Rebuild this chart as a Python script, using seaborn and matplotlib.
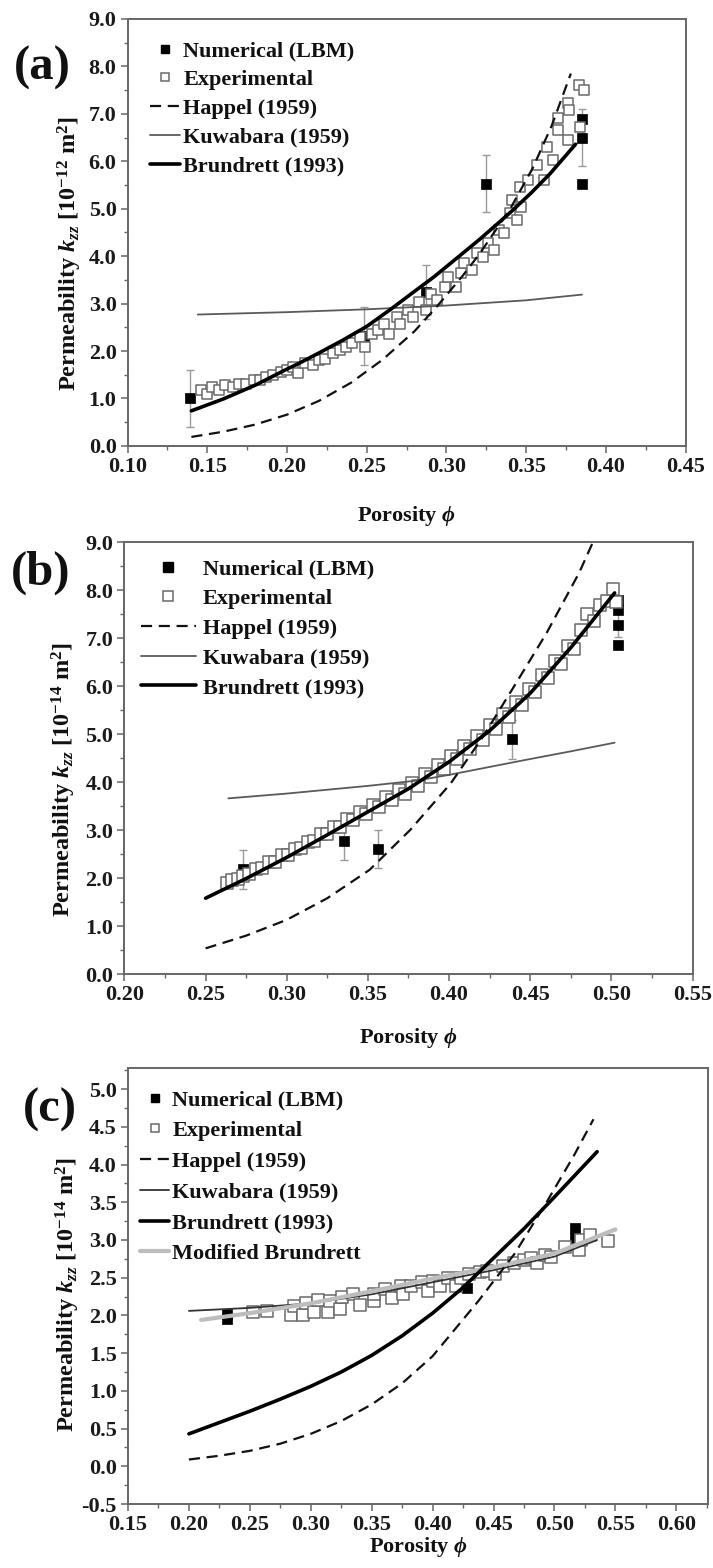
import matplotlib
matplotlib.use('Agg')
import matplotlib.pyplot as plt
import seaborn as sns
from matplotlib.lines import Line2D
from matplotlib.ticker import MultipleLocator, FormatStrFormatter

# ---------------- Panel (a) data ----------------
a_lbm_x = [0.139, 0.248, 0.287, 0.325, 0.385, 0.385, 0.385]
a_lbm_y = [1.00, 2.32, 3.25, 5.53, 6.90, 6.50, 5.53]
a_lbm_err = [0.60, 0.61, 0.57, 0.60, 0.0, 0.60, 0.0]

a_exp_x = [0.146, 0.150, 0.153, 0.157, 0.161, 0.166, 0.170, 0.174, 0.179, 0.183,
           0.187, 0.191, 0.196, 0.200, 0.204, 0.207, 0.211, 0.216, 0.220, 0.224,
           0.229, 0.233, 0.237, 0.241, 0.246, 0.249, 0.253, 0.257, 0.261, 0.264,
           0.269, 0.271, 0.276, 0.279, 0.283, 0.287, 0.290, 0.294, 0.299, 0.301,
           0.306, 0.309, 0.311, 0.316, 0.319, 0.323, 0.326, 0.330, 0.333, 0.336,
           0.340, 0.341, 0.344, 0.347, 0.346, 0.351, 0.357, 0.361, 0.363, 0.367,
           0.370, 0.370, 0.376, 0.376, 0.377, 0.383, 0.386, 0.384]
a_exp_y = [1.17, 1.10, 1.24, 1.17, 1.28, 1.24, 1.31, 1.31, 1.39, 1.39,
           1.46, 1.49, 1.56, 1.60, 1.67, 1.53, 1.74, 1.70, 1.81, 1.84,
           1.95, 2.02, 2.09, 2.16, 2.30, 2.09, 2.37, 2.44, 2.58, 2.37,
           2.72, 2.58, 2.86, 2.72, 3.04, 2.86, 3.21, 3.07, 3.35, 3.57,
           3.35, 3.64, 3.85, 3.71, 4.06, 3.99, 4.27, 4.13, 4.55, 4.48,
           4.90, 5.18, 4.76, 5.04, 5.46, 5.60, 5.92, 5.60, 6.31, 6.03,
           6.66, 6.91, 6.45, 7.22, 7.08, 7.61, 7.50, 6.73]

a_happel_x = [0.140, 0.160, 0.180, 0.200, 0.220, 0.240, 0.260, 0.280, 0.294, 0.310,
              0.321, 0.340, 0.354, 0.366, 0.378]
a_happel_y = [0.19, 0.30, 0.45, 0.66, 0.95, 1.33, 1.82, 2.42, 2.94, 3.58,
              4.06, 5.00, 5.85, 6.75, 7.85]

a_kuwa_x = [0.144, 0.200, 0.250, 0.300, 0.350, 0.385]
a_kuwa_y = [2.77, 2.82, 2.88, 2.96, 3.07, 3.19]

a_brund_x = [0.140, 0.160, 0.180, 0.200, 0.208, 0.220, 0.235, 0.250, 0.265, 0.280,
             0.292, 0.300, 0.321, 0.340, 0.353, 0.365, 0.381]
a_brund_y = [0.74, 0.99, 1.28, 1.62, 1.75, 1.96, 2.23, 2.52, 2.88, 3.26,
             3.56, 3.78, 4.36, 4.92, 5.33, 5.74, 6.36]

# ---------------- Panel (b) data ----------------
b_lbm_x = [0.273, 0.335, 0.356, 0.439, 0.504, 0.504, 0.504, 0.504]
b_lbm_y = [2.18, 2.78, 2.61, 4.89, 7.80, 7.59, 7.28, 6.86]
b_lbm_err = [0.40, 0.40, 0.40, 0.40, 0.0, 0.0, 0.25, 0.0]

b_exp_x = [0.263, 0.266, 0.270, 0.273, 0.277, 0.281, 0.285, 0.289, 0.293, 0.297,
           0.301, 0.305, 0.309, 0.313, 0.317, 0.321, 0.325, 0.329, 0.333, 0.337,
           0.341, 0.345, 0.349, 0.353, 0.357, 0.361, 0.365, 0.369, 0.373, 0.377,
           0.381, 0.385, 0.389, 0.393, 0.397, 0.401, 0.405, 0.409, 0.413, 0.417,
           0.421, 0.425, 0.429, 0.433, 0.437, 0.441, 0.445, 0.449, 0.453, 0.457,
           0.461, 0.465, 0.469, 0.473, 0.477, 0.481, 0.485, 0.489, 0.493, 0.497,
           0.501, 0.503]
b_exp_y = [1.89, 1.95, 1.97, 2.05, 2.08, 2.18, 2.20, 2.33, 2.34, 2.47,
           2.47, 2.61, 2.62, 2.76, 2.77, 2.91, 2.92, 3.07, 3.06, 3.22,
           3.20, 3.37, 3.33, 3.53, 3.47, 3.68, 3.62, 3.83, 3.76, 3.99,
           3.92, 4.17, 4.10, 4.35, 4.28, 4.55, 4.48, 4.75, 4.68, 4.96,
           4.88, 5.18, 5.10, 5.42, 5.36, 5.67, 5.60, 5.93, 5.88, 6.22,
           6.17, 6.52, 6.46, 6.84, 6.78, 7.16, 7.50, 7.35, 7.68, 7.78,
           8.02, 7.75]

b_happel_x = [0.250, 0.275, 0.300, 0.325, 0.351, 0.376, 0.401, 0.421, 0.440, 0.460,
              0.480, 0.490]
b_happel_y = [0.535, 0.80, 1.13, 1.58, 2.17, 3.00, 3.97, 4.95, 5.99, 7.10,
              8.35, 9.10]

b_kuwa_x = [0.264, 0.300, 0.350, 0.380, 0.400, 0.450, 0.475, 0.502]
b_kuwa_y = [3.66, 3.76, 3.92, 4.03, 4.15, 4.48, 4.64, 4.82]

b_brund_x = [0.250, 0.275, 0.300, 0.325, 0.350, 0.375, 0.400, 0.425, 0.450, 0.475, 0.502]
b_brund_y = [1.58, 1.99, 2.43, 2.90, 3.38, 3.86, 4.42, 5.07, 5.85, 6.80, 7.94]

# ---------------- Panel (c) data ----------------
c_lbm_x = [0.231, 0.231, 0.428, 0.517, 0.517]
c_lbm_y = [2.02, 1.95, 2.37, 3.16, 3.02]

c_exp_x = [0.253, 0.264, 0.284, 0.286, 0.294, 0.296, 0.303, 0.306, 0.314, 0.316,
           0.324, 0.326, 0.335, 0.340, 0.352, 0.352, 0.361, 0.367, 0.374, 0.376,
           0.382, 0.391, 0.396, 0.400, 0.406, 0.413, 0.419, 0.423, 0.430, 0.439,
           0.445, 0.451, 0.458, 0.467, 0.475, 0.481, 0.486, 0.492, 0.497, 0.509,
           0.520, 0.522, 0.529, 0.544]
c_exp_y = [2.04, 2.06, 2.00, 2.12, 2.01, 2.16, 2.05, 2.21, 2.05, 2.19,
           2.09, 2.25, 2.29, 2.14, 2.19, 2.28, 2.35, 2.23, 2.39, 2.28,
           2.39, 2.44, 2.32, 2.46, 2.39, 2.50, 2.39, 2.50, 2.55, 2.57,
           2.59, 2.55, 2.66, 2.69, 2.73, 2.76, 2.69, 2.80, 2.78, 2.91,
           2.87, 3.00, 3.07, 2.98]

c_happel_x = [0.200, 0.225, 0.250, 0.275, 0.300, 0.325, 0.350, 0.375, 0.400, 0.4375,
              0.4674, 0.4935, 0.516, 0.532]
c_happel_y = [0.09, 0.14, 0.205, 0.30, 0.43, 0.60, 0.82, 1.10, 1.46, 2.19,
              2.82, 3.50, 4.12, 4.60]

c_kuwa_x = [0.200, 0.250, 0.300, 0.350, 0.400, 0.450, 0.500, 0.535]
c_kuwa_y = [2.06, 2.10, 2.16, 2.28, 2.44, 2.60, 2.78, 3.00]

c_brund_x = [0.200, 0.225, 0.250, 0.275, 0.300, 0.325, 0.350, 0.375, 0.400, 0.425,
             0.450, 0.475, 0.500, 0.535]
c_brund_y = [0.43, 0.58, 0.73, 0.89, 1.06, 1.25, 1.47, 1.73, 2.03, 2.37,
             2.76, 3.15, 3.57, 4.17]

c_mod_x = [0.210, 0.250, 0.300, 0.350, 0.400, 0.450, 0.500, 0.550]
c_mod_y = [1.94, 2.03, 2.16, 2.32, 2.49, 2.64, 2.82, 3.14]

# ---------------- text ----------------
labels_main = ["Numerical (LBM)", "Experimental", "Happel (1959)", "Kuwabara (1959)",
               "Brundrett (1993)"]
label_mod = "Modified Brundrett"
xlabel = r"Porosity $\mathit{\phi}$"
ylabel_a = r"Permeability $\mathit{k}_{\mathit{zz}}$ [10$^{-12}$ m$^{2}$]"
ylabel_bc = r"Permeability $\mathit{k}_{\mathit{zz}}$ [10$^{-14}$ m$^{2}$]"
panel_tags = ["(a)", "(b)", "(c)"]

# ---------------- style ----------------
sns.set_theme(style='ticks')
plt.rcParams['font.family'] = ['Liberation Serif', 'DejaVu Serif']
plt.rcParams['font.weight'] = 'bold'
plt.rcParams['axes.labelweight'] = 'bold'
plt.rcParams['mathtext.fontset'] = 'custom'
plt.rcParams['mathtext.rm'] = 'Liberation Serif:bold'
plt.rcParams['mathtext.it'] = 'Liberation Serif:italic:bold'
plt.rcParams['mathtext.bf'] = 'Liberation Serif:bold'

SPINE = '#666666'
KUWA = '#5a5a5a'
ERR = '#9a9a9a'
SQ_EDGE = '#6a6a6a'
MOD = '#bdbdbd'
FS = 16
FS_Y = 17.5

fig = plt.figure(figsize=(7.13, 15.68), dpi=100)
fig.patch.set_facecolor('white')

ax_a = fig.add_axes([0.179, 0.7156, 0.7826, 0.2723])
ax_b = fig.add_axes([0.1745, 0.3788, 0.7968, 0.2755])
ax_c = fig.add_axes([0.1795, 0.0408, 0.8135, 0.2781])


def style_axes(ax, xlim, ylim, xmaj, ymaj, ymin):
    ax.set_xlim(*xlim)
    ax.set_ylim(*ylim)
    ax.xaxis.set_major_locator(MultipleLocator(xmaj))
    ax.xaxis.set_minor_locator(MultipleLocator(xmaj / 2))
    ax.yaxis.set_major_locator(MultipleLocator(ymaj))
    ax.yaxis.set_minor_locator(MultipleLocator(ymin))
    ax.xaxis.set_major_formatter(FormatStrFormatter('%.2f'))
    ax.yaxis.set_major_formatter(FormatStrFormatter('%.1f'))
    for s in ax.spines.values():
        s.set_color(SPINE)
        s.set_linewidth(1.4)
        s.set_visible(True)
    ax.tick_params(which='major', direction='out', length=5, width=1.1,
                   color=SPINE, labelsize=FS, labelcolor='#1a1a1a', pad=3)
    ax.tick_params(which='minor', direction='out', length=3, width=1.0, color=SPINE)
    for t in ax.get_xticklabels() + ax.get_yticklabels():
        t.set_fontweight('bold')
    ax.set_facecolor('white')


def draw_panel(ax, lbm_x, lbm_y, lbm_err, exp_x, exp_y, hx, hy, kx, ky, bx, by,
               ms_exp, ms_lbm, kuwa_color, mod=None):
    if lbm_err is not None:
        ax.errorbar(lbm_x, lbm_y, yerr=lbm_err, fmt='none', ecolor=ERR,
                    elinewidth=1.0, capsize=3, capthick=1.0, zorder=2)
    sns.scatterplot(x=lbm_x, y=lbm_y, ax=ax, marker='s', s=ms_lbm ** 2,
                    color='black', edgecolor='black', linewidth=0.5, zorder=3)
    sns.scatterplot(x=exp_x, y=exp_y, ax=ax, marker='s', s=ms_exp ** 2,
                    facecolor='white', edgecolor=SQ_EDGE, linewidth=1.1, zorder=4)
    sns.lineplot(x=kx, y=ky, ax=ax, color=kuwa_color, linewidth=1.3,
                 estimator=None, sort=False, zorder=5)
    if mod is not None:
        sns.lineplot(x=mod[0], y=mod[1], ax=ax, color=MOD, linewidth=3.0,
                     estimator=None, sort=False, zorder=5)
    sns.lineplot(x=hx, y=hy, ax=ax, color='#111111', linewidth=1.6,
                 linestyle=(0, (5, 3)), estimator=None, sort=False, zorder=6)
    sns.lineplot(x=bx, y=by, ax=ax, color='black', linewidth=2.6,
                 estimator=None, sort=False, zorder=7)


def make_legend(ax, anchor, handlelen, textpad, spacing, ms_exp, ms_lbm, kuwa_color,
                with_mod=False):
    handles = [
        Line2D([], [], linestyle='none', marker='s', markersize=ms_lbm,
               markerfacecolor='black', markeredgecolor='black'),
        Line2D([], [], linestyle='none', marker='s', markersize=ms_exp,
               markerfacecolor='white', markeredgecolor=SQ_EDGE, markeredgewidth=1.1),
        Line2D([], [], color='#111111', linewidth=1.6, linestyle=(0, (5, 3))),
        Line2D([], [], color=kuwa_color, linewidth=1.3),
        Line2D([], [], color='black', linewidth=2.6),
    ]
    labs = list(labels_main)
    if with_mod:
        handles.append(Line2D([], [], color=MOD, linewidth=3.0))
        labs.append(label_mod)
    leg = ax.legend(handles, labs, loc='upper left', bbox_to_anchor=anchor,
                    frameon=False, handlelength=handlelen,
                    handletextpad=textpad, labelspacing=spacing, borderpad=0,
                    borderaxespad=0, prop={'weight': 'bold', 'size': FS})
    for t in leg.get_texts():
        t.set_color('#111111')
    return leg


# Panel (a)
draw_panel(ax_a, a_lbm_x, a_lbm_y, a_lbm_err, a_exp_x, a_exp_y, a_happel_x, a_happel_y,
           a_kuwa_x, a_kuwa_y, a_brund_x, a_brund_y, ms_exp=7, ms_lbm=6.5, kuwa_color=KUWA)
style_axes(ax_a, (0.10, 0.45), (0.0, 9.0), 0.05, 1.0, 0.5)
make_legend(ax_a, (0.04, 0.949), 1.35, 0.15, 0.37, 5.5, 5.5, KUWA)

# Panel (b)
draw_panel(ax_b, b_lbm_x, b_lbm_y, b_lbm_err, b_exp_x, b_exp_y, b_happel_x, b_happel_y,
           b_kuwa_x, b_kuwa_y, b_brund_x, b_brund_y, ms_exp=8, ms_lbm=7, kuwa_color=KUWA)
style_axes(ax_b, (0.20, 0.55), (0.0, 9.0), 0.05, 1.0, 0.5)
make_legend(ax_b, (0.029, 0.961), 2.48, 0.3, 0.41, 7, 7, KUWA)

# Panel (c)
draw_panel(ax_c, c_lbm_x, c_lbm_y, None, c_exp_x, c_exp_y, c_happel_x, c_happel_y,
           c_kuwa_x, c_kuwa_y, c_brund_x, c_brund_y, ms_exp=8, ms_lbm=7,
           kuwa_color='#333333', mod=(c_mod_x, c_mod_y))
style_axes(ax_c, (0.15, 0.626), (-0.5, 5.28), 0.05, 0.5, 0.25)
make_legend(ax_c, (0.021, 0.95), 1.3, 0.15, 0.46, 6, 6, '#333333', with_mod=True)

# Labels
for ax, yl, xly, ylx, ylc in [(ax_a, ylabel_a, -0.136, -0.078, 0.45),
                              (ax_b, ylabel_bc, -0.12, -0.081, 0.45),
                              (ax_c, ylabel_bc, -0.071, -0.079, 0.48)]:
    ax.set_xlabel(xlabel, fontsize=FS, fontweight='bold', color='#111111')
    ax.set_ylabel(yl, fontsize=FS_Y, fontweight='bold', color='#111111')
    ax.xaxis.set_label_coords(0.5, xly)
    ax.yaxis.set_label_coords(ylx, ylc)

# Panel tags
for tag, (tx, ty) in zip(panel_tags, [(0.060, 0.957), (0.0575, 0.635), (0.070, 0.292)]):
    fig.text(tx, ty, tag, fontsize=35, fontweight='bold', ha='center', va='center',
             color='#111111')

fig.savefig('out.png', dpi=100, facecolor='white')
